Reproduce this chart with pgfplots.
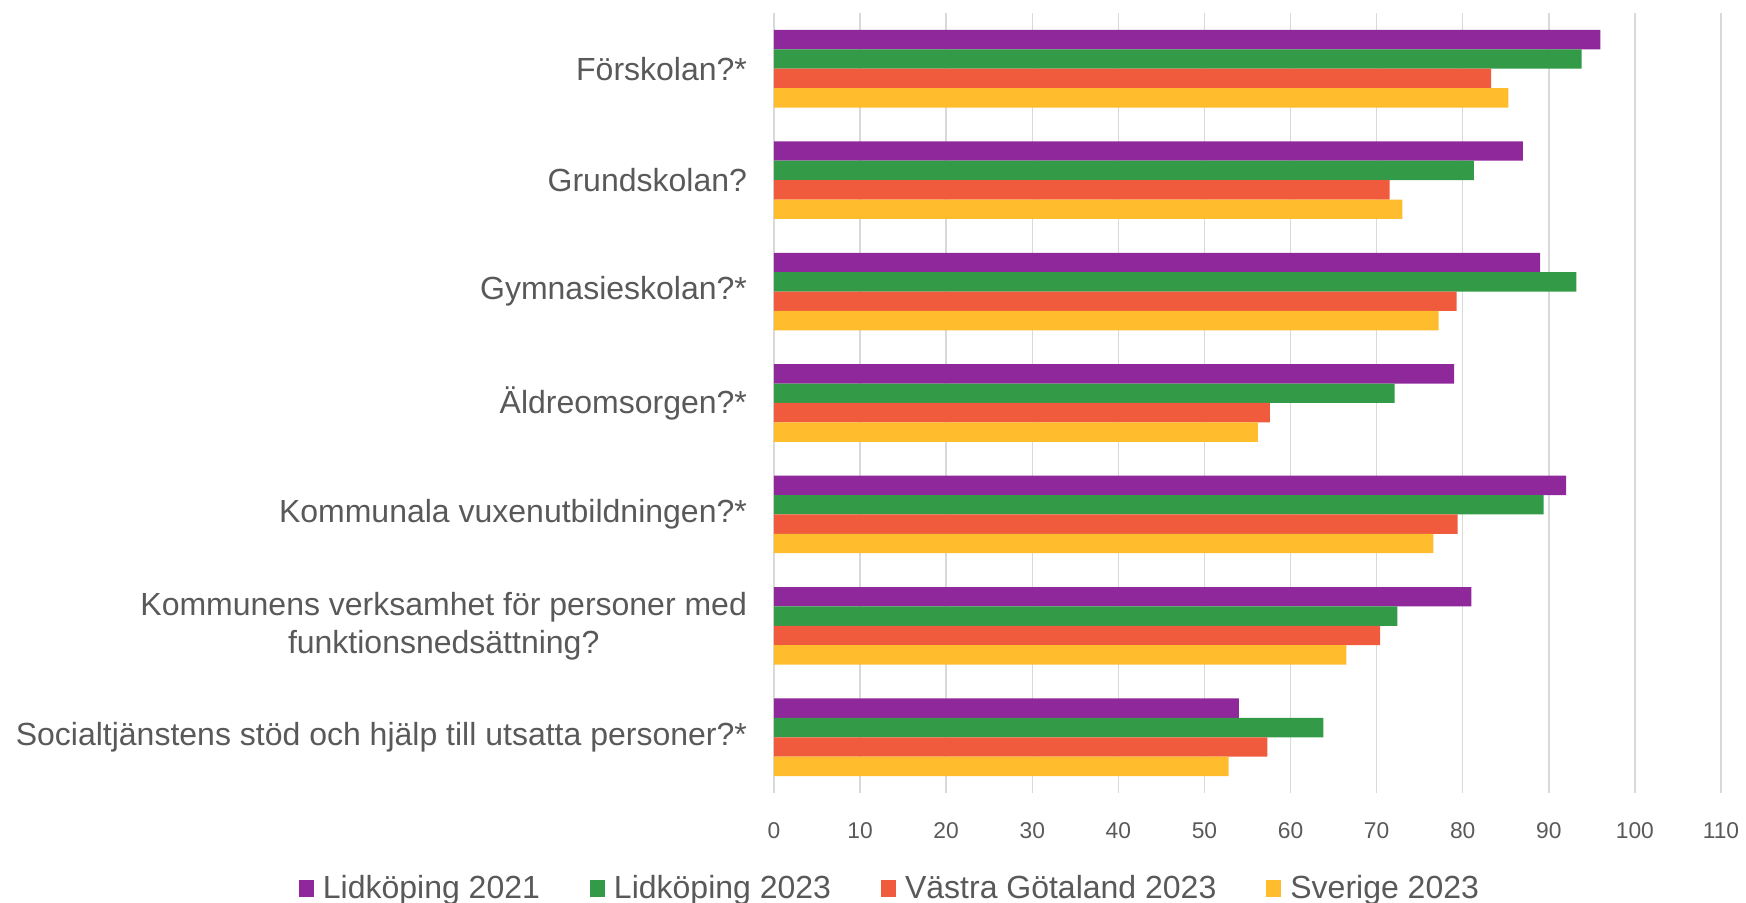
\documentclass[border=0pt]{standalone}
\usepackage{fontspec}
\setmainfont{Liberation Sans}
\usepackage{pgfplots}
\pgfplotsset{compat=1.18}
\definecolor{cpurple}{RGB}{143,41,155}
\definecolor{cgreen}{RGB}{51,155,71}
\definecolor{corange}{RGB}{240,91,62}
\definecolor{cyellow}{RGB}{255,188,45}
\definecolor{ctext}{RGB}{89,89,89}
\definecolor{cgrid}{RGB}{217,217,217}
\begin{document}
\begin{tikzpicture}
\begin{axis}[
  name=ax,
  scale only axis,
  width=473.5pt, height=390pt,
  xbar=0pt, bar width=9.7pt,
  xmin=0, xmax=110,
  ymin=-0.5, ymax=6.5,
  y dir=reverse,
  xtick={0,10,...,110},
  ytick={0,1,2,3,4,5,6},
  yticklabels={Förskolan?*, Grundskolan?, Gymnasieskolan?*, Äldreomsorgen?*, Kommunala vuxenutbildningen?*, {Kommunens verksamhet för personer med\\funktionsnedsättning?}, Socialtjänstens stöd och hjälp till utsatta personer?*},
  yticklabel style={align=center, font=\fontsize{16pt}{19pt}\selectfont, text=ctext, xshift=-10pt},
  xticklabel style={font=\fontsize{11.4pt}{13pt}\selectfont, text=ctext, yshift=-11.5pt},
  /pgf/number format/assume math mode=true,
  major tick length=0pt,
  axis line style={draw=none},
  xmajorgrids, grid style={cgrid, line width=0.75pt},
  legend columns=4,
  legend style={at={(0.1235,-0.122)}, anchor=center, draw=none, fill=none,
    font=\fontsize{16pt}{18pt}\selectfont, text=ctext,
    /tikz/every odd column/.append style={column sep=2.5pt},
    /tikz/every even column/.append style={column sep=23pt},
    inner sep=0pt},
  legend image code/.code={\fill[#1] (0pt,-4.5pt) rectangle (7.5pt,4pt);},
]
\addplot[fill=cpurple, draw=none, bar shift=14.55pt] coordinates {(96.0,0) (87.0,1) (89.0,2) (79.0,3) (92.0,4) (81.0,5) (54.0,6)};
\addplot[fill=cgreen, draw=none, bar shift=4.85pt] coordinates {(93.8,0) (81.3,1) (93.2,2) (72.1,3) (89.4,4) (72.4,5) (63.8,6)};
\addplot[fill=corange, draw=none, bar shift=-4.85pt] coordinates {(83.3,0) (71.5,1) (79.3,2) (57.6,3) (79.4,4) (70.4,5) (57.3,6)};
\addplot[fill=cyellow, draw=none, bar shift=-14.55pt] coordinates {(85.3,0) (73.0,1) (77.2,2) (56.2,3) (76.6,4) (66.5,5) (52.8,6)};
\legend{Lidköping 2021, Lidköping 2023, Västra Götaland 2023, Sverige 2023}
\end{axis}
\pgfresetboundingbox
\path[use as bounding box] ([xshift=-387pt,yshift=-55pt]ax.south west) rectangle ([xshift=12.5pt,yshift=6.5pt]ax.north east);
\end{tikzpicture}
\end{document}
